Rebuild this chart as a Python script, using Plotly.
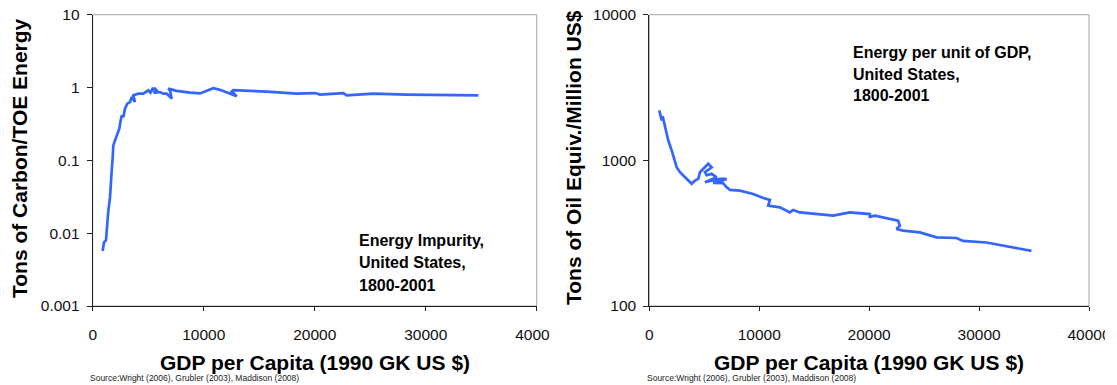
import plotly.graph_objects as go

# ---------------- data ----------------
gdp_left = [901, 1018, 1198, 1261, 1405, 1559, 1622, 1712, 1802, 1856,
            2009, 2162, 2396, 2523, 2613, 2757, 2910, 3117, 3360, 3514,
            3811, 3658, 4108, 4559, 4800, 5009, 5200, 5459, 5300, 5600,
            5766, 5500, 6063, 6360, 6667, 7117, 6964, 6811, 7568, 8766,
            9667, 10865, 11468, 12973, 12523, 12667, 15676, 18378, 20027, 20477,
            22577, 22883, 25279, 28288, 30685, 34739]
carbon_per_toe = [0.0057, 0.0075, 0.0080, 0.012, 0.020, 0.031, 0.053, 0.072, 0.110, 0.160,
                  0.187, 0.220, 0.272, 0.353, 0.414, 0.392, 0.512, 0.600, 0.631, 0.740,
                  0.631, 0.781, 0.824, 0.824, 0.88, 0.914, 0.85, 1.0, 0.90, 0.97,
                  0.914, 0.84, 0.867, 0.824, 0.824, 0.703, 0.914, 0.966, 0.90, 0.85,
                  0.83, 0.98, 0.93, 0.757, 0.88, 0.92, 0.88, 0.824, 0.839, 0.798,
                  0.839, 0.781, 0.824, 0.798, 0.798, 0.781]

gdp_right = [909, 1036, 1127, 1218, 1427, 1727, 2036, 2182, 2336, 2491,
             2791, 3091, 3400, 3855, 4155, 4455, 4609, 4909, 5364, 5673,
             5364, 5064, 5218, 5673, 6127, 5500, 5064, 5818, 6427, 7036,
             6500, 5800, 6727, 7036, 7336, 8245, 9455, 10364, 10973, 10818,
             11882, 12791, 13091, 13700, 16727, 18245, 20064, 20064, 20518, 22636,
             22791, 22491, 23091, 24609, 26127, 27945, 28545, 30673, 33091, 34764]
toe_per_musd = [2205, 2037, 1882, 2005, 1692, 1370, 1169, 1080, 998, 897,
                829, 786, 746, 690, 726, 746, 829, 875, 947, 897,
                860, 829, 790, 808, 765, 726, 707, 730, 746, 746,
                720, 700, 696, 653, 627, 620, 588, 552, 535, 489,
                476, 439, 456, 439, 417, 439, 428, 410, 417, 385,
                356, 338, 329, 320, 296, 293, 280, 273, 252, 239]

x_ticks = [0, 10000, 20000, 30000, 40000]
x_tick_text = ["0", "10000", "20000", "30000", "40000"]
left_y_ticks = [0.001, 0.01, 0.1, 1, 10]
left_y_text = ["0.001", "0.01", "0.1", "1", "10"]
right_y_ticks = [100, 1000, 10000]
right_y_text = ["100", "1000", "10000"]

x_title = "GDP per Capita (1990 GK US $)"
left_y_title = "Tons of Carbon/TOE Energy"
right_y_title = "Tons of Oil Equiv./Million US$"
left_note = ["Energy Impurity,", "United States,", "1800-2001"]
right_note = ["Energy per unit of GDP,", "United States,", "1800-2001"]
source = "Source:Wright (2006), Grubler (2003), Maddison (2008)"

# ---------------- figure ----------------
W, H = 1117, 385
FONT = "Liberation Sans, Arial, sans-serif"
BLUE = "#3366FF"

def px(x):
    return x / W

def py(y):
    return 1 - y / H

fig = go.Figure()
fig.add_trace(go.Scatter(x=gdp_left, y=carbon_per_toe, mode="lines",
                         line=dict(color=BLUE, width=2.7), xaxis="x", yaxis="y",
                         showlegend=False))
fig.add_trace(go.Scatter(x=gdp_right, y=toe_per_musd, mode="lines",
                         line=dict(color=BLUE, width=2.7), xaxis="x2", yaxis="y2",
                         showlegend=False))

ydom = [py(306), py(14.7)]
xaxis_common = dict(range=[0, 40000], tickmode="array", tickvals=x_ticks,
                    ticktext=x_tick_text, showgrid=False, zeroline=False,
                    showline=True, linecolor="#222222", linewidth=1,
                    ticks="outside", ticklen=4, tickcolor="#222222",
                    tickfont=dict(family=FONT, size=15.5, color="#111111"),
                    ticklabelstandoff=10, automargin=False)
yaxis_common = dict(type="log", showgrid=False, zeroline=False,
                    showline=True, linecolor="#222222", linewidth=1,
                    ticks="outside", ticklen=5, tickcolor="#222222",
                    tickfont=dict(family=FONT, size=15.5, color="#111111"),
                    ticklabelstandoff=4, automargin=False)

fig.update_layout(
    width=W, height=H, margin=dict(l=0, r=0, t=0, b=0, autoexpand=False),
    paper_bgcolor="white", plot_bgcolor="white",
    xaxis=dict(domain=[px(92.7), px(536.7)], anchor="y", **xaxis_common),
    yaxis=dict(domain=ydom, anchor="x", range=[-3, 1], tickvals=left_y_ticks,
               ticktext=left_y_text, **yaxis_common),
    xaxis2=dict(domain=[px(649.3), px(1089)], anchor="y2", **xaxis_common),
    yaxis2=dict(domain=ydom, anchor="x2", range=[2, 4], tickvals=right_y_ticks,
                ticktext=right_y_text, **yaxis_common),
)

# plot-area borders (light grey, top/right), drawn beneath
for xr, yr in (("x domain", "y domain"), ("x2 domain", "y2 domain")):
    fig.add_shape(type="rect", xref=xr, yref=yr, x0=0, x1=1, y0=0, y1=1,
                  line=dict(color="#A6A6A6", width=1), layer="below")

# clip the "40000" labels like the reference
fig.add_shape(type="rect", xref="paper", yref="paper", x0=px(550), x1=px(562),
              y0=py(345), y1=py(318), fillcolor="white", line=dict(width=0), layer="above")
fig.add_shape(type="rect", xref="paper", yref="paper", x0=px(1105), x1=1,
              y0=py(345), y1=py(318), fillcolor="white", line=dict(width=0), layer="above")

anns = []
title_font = dict(family=FONT, size=21, color="black")
# x titles
for cx in (314.7, 869.2):
    anns.append(dict(text="<b>%s</b>" % x_title, x=px(cx), y=py(362), xref="paper", yref="paper",
                     xanchor="center", yanchor="middle", showarrow=False, font=title_font))
# y titles
for cx, t in ((19, left_y_title), (573, right_y_title)):
    anns.append(dict(text="<b>%s</b>" % t, x=px(cx), y=py(158), xref="paper", yref="paper",
                     xanchor="center", yanchor="middle", showarrow=False, textangle=-90,
                     font=title_font))
# notes
note_font = dict(family=FONT, size=16, color="black")
for i, t in enumerate(left_note):
    anns.append(dict(text="<b>%s</b>" % t, x=px(357), y=py(240 + 22.5 * i), xref="paper",
                     yref="paper", xanchor="left", yanchor="middle", showarrow=False,
                     font=note_font))
for i, t in enumerate(right_note):
    anns.append(dict(text="<b>%s</b>" % t, x=px(851), y=py(52 + 22 * i), xref="paper",
                     yref="paper", xanchor="left", yanchor="middle", showarrow=False,
                     font=note_font))
# sources
for lx in (88, 645):
    anns.append(dict(text=source, x=px(lx), y=py(378), xref="paper", yref="paper",
                     xanchor="left", yanchor="middle", showarrow=False,
                     font=dict(family=FONT, size=8.5, color="#222222")))
fig.update_layout(annotations=anns)

fig.write_html("out.html", config={"displayModeBar": False},
               post_script="document.body.style.margin='0';document.body.style.overflow='hidden';")
